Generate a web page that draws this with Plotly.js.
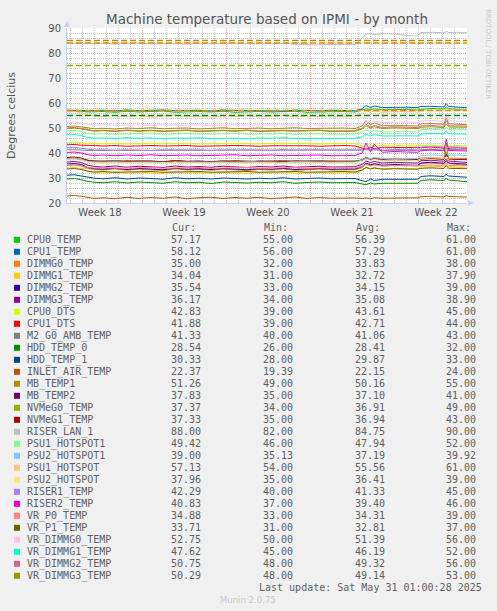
<!DOCTYPE html>
<html><head><meta charset="utf-8">
<script src="https://cdn.plot.ly/plotly-3.0.1.min.js"></script>
<style>html,body{margin:0;padding:0;background:#f0f0f0;}#chart{width:497px;height:611px;}</style>
</head><body><div id="chart"></div>
<script>
// ---------- data ----------
const startTime = '2025-04-28 18:00';
const spanDays = 33.33;
const days = [0,0.6,1.2,1.75,2.3,3,4,5,6,7,8,9,10,11,12,13,14,15,16,17,18,19,20,21,22,23,24,
  24.6,24.9,25.3,25.6,26.3,27.3,28.3,29.2,29.5,30.3,31.4,31.6,31.8,32.6,33.33];
const weekStarts = ['2025-04-28 00:00','2025-05-05 00:00','2025-05-12 00:00','2025-05-19 00:00','2025-05-26 00:00'];
const weekLabels = ['Week 18','Week 19','Week 20','Week 21','Week 22'];
const yTickVals = [20,30,40,50,60,70,80,90];

const names = ['CPU0_TEMP','CPU1_TEMP','DIMMG0_TEMP','DIMMG1_TEMP','DIMMG2_TEMP','DIMMG3_TEMP','CPU0_DTS','CPU1_DTS',
  'M2_G0_AMB_TEMP','HDD_TEMP_0','HDD_TEMP_1','INLET_AIR_TEMP','MB_TEMP1','MB_TEMP2','NVMeG0_TEMP','NVMeG1_TEMP',
  'RISER_LAN_1','PSU1_HOTSPOT1','PSU2_HOTSPOT1','PSU1_HOTSPOT','PSU2_HOTSPOT','RISER1_TEMP','RISER2_TEMP',
  'VR_P0_TEMP','VR_P1_TEMP','VR_DIMMG0_TEMP','VR_DIMMG1_TEMP','VR_DIMMG2_TEMP','VR_DIMMG3_TEMP'];
const colors = ['#00CC00','#0066B3','#FF8000','#FFCC00','#330099','#990099','#CCFF00','#FF0000',
  '#808080','#008F00','#00487D','#B35A00','#B38F00','#6B006B','#8FB300','#B30000',
  '#BEBEBE','#80FF80','#80C9FF','#FFC080','#FFE680','#AA80FF','#EE00CC',
  '#FF8080','#666600','#FFBFFF','#00FFCC','#CC6699','#999900'];

const CPU0_TEMP = [56.8,56.9,56.7,56.4,56.5,56.6,56.3,56.7,56.4,56.5,56.8,56.3,56.5,56.6,56.4,56.7,56.3,56.5,56.6,56.4,56.5,56.7,56.3,56.5,56.4,56.6,56.4,57.0,57.6,57.4,57.7,57.3,57.5,57.4,57.2,57.5,57.8,57.6,58.4,57.7,57.4,57.2];
const CPU1_TEMP = [57.1,57.2,57.0,56.9,57.0,57.1,56.8,57.2,56.9,57.0,57.2,56.9,57.0,57.1,56.8,57.2,57.0,56.9,57.1,57.0,56.8,57.1,57.0,56.9,57.1,57.0,56.9,57.6,59.0,58.2,58.8,58.2,58.4,58.3,58.2,58.6,58.7,58.4,59.7,58.6,58.3,58.1];
const DIMMG0_TEMP = [35.0,35.2,34.8,33.8,33.4,33.2,33.6,33.1,33.5,33.3,33.0,33.6,33.2,33.4,33.1,33.5,33.3,33.0,33.4,33.2,33.6,33.1,33.3,33.5,33.2,33.4,33.3,34.2,35.6,35.0,35.4,34.8,35.1,34.9,34.8,35.8,36.0,35.6,36.6,35.8,35.4,35.0];
const DIMMG1_TEMP = [34.0,34.2,33.8,32.6,32.2,32.0,32.4,31.9,32.3,32.1,31.8,32.4,32.0,32.2,31.9,32.3,32.1,31.8,32.2,32.0,32.4,31.9,32.1,32.3,32.0,32.2,32.1,33.0,34.4,33.8,34.2,33.6,33.9,33.7,33.6,34.6,34.8,34.4,36.0,34.6,34.2,34.0];
const DIMMG2_TEMP = [35.6,35.8,35.4,34.2,33.7,33.5,33.9,33.4,33.8,33.6,33.3,33.9,33.5,33.7,33.4,33.8,33.6,33.3,33.7,33.5,33.9,33.4,33.6,33.8,33.5,33.7,33.6,34.6,36.0,35.3,35.7,35.1,35.4,35.2,35.1,36.0,36.3,35.9,37.0,36.0,35.7,35.5];
const DIMMG3_TEMP = [36.4,36.6,36.2,35.1,34.6,34.4,34.8,34.3,34.7,34.5,34.2,34.8,34.4,34.6,34.3,34.7,34.5,34.2,34.6,34.4,34.8,34.3,34.5,34.7,34.4,34.6,34.5,35.5,36.8,36.2,36.6,36.0,36.3,36.1,36.0,36.9,37.1,36.7,37.6,36.8,36.4,36.2];
const CPU0_DTS = [44.2,44.4,44.0,43.8,43.9,43.7,43.9,43.6,43.8,43.9,43.7,43.8,43.9,43.6,43.8,43.7,43.9,43.8,43.6,43.8,43.9,43.7,43.8,43.6,43.8,43.9,43.7,42.8,42.3,43.0,42.6,43.1,42.9,43.0,43.1,42.9,43.2,42.8,39.4,42.9,43.0,42.8];
const CPU1_DTS = [43.3,43.4,43.1,42.9,43.0,42.8,43.0,42.7,42.9,43.0,42.8,42.9,43.0,42.7,42.9,42.8,43.0,42.9,42.7,42.9,43.0,42.8,42.9,42.7,42.9,43.0,42.8,42.0,41.5,42.2,41.8,42.3,42.1,42.2,42.3,42.1,42.4,42.0,39.2,42.0,42.1,41.9];
const M2_G0_AMB_TEMP = [41.3,41.4,41.2,41.0,41.0,41.1,40.9,41.0,41.1,40.9,41.0,41.0,41.1,40.9,41.0,41.0,41.1,40.9,41.0,41.1,40.9,41.0,41.0,41.1,40.9,41.0,41.0,41.2,41.4,41.1,41.3,41.0,41.1,41.0,41.0,41.3,41.4,41.2,41.8,41.4,41.3,41.3];
const HDD_TEMP_0 = [29.6,29.8,29.3,28.6,28.3,28.1,28.5,28.0,28.4,28.2,27.9,28.5,28.1,28.3,27.8,28.4,28.2,28.0,28.3,28.1,28.5,27.9,28.2,28.4,28.1,28.3,28.2,27.6,27.3,28.0,27.6,27.9,28.0,27.8,27.9,29.0,29.3,29.0,29.8,29.2,28.8,28.5];
const HDD_TEMP_1 = [31.1,31.3,30.8,30.2,29.9,29.7,30.1,29.6,30.0,29.8,29.5,30.1,29.7,29.9,29.6,30.0,29.8,29.6,29.9,29.7,30.1,29.6,29.8,30.0,29.7,29.9,29.8,29.0,28.5,29.6,29.0,29.5,29.6,29.4,29.5,30.6,30.9,30.6,31.5,30.8,30.5,30.3];
const INLET_AIR_TEMP = [22.8,23.0,22.7,22.2,21.8,22.1,21.7,22.3,21.8,22.2,21.9,22.4,21.7,22.1,22.3,21.8,22.2,21.9,22.3,21.7,22.1,22.4,21.8,22.2,21.9,22.1,22.0,21.8,22.0,21.7,22.1,21.9,22.0,21.8,22.1,22.5,22.7,22.4,23.0,22.6,22.5,22.4];
const MB_TEMP1 = [50.6,50.8,50.4,49.9,49.7,49.9,49.6,50.0,49.8,50.1,49.7,49.9,50.0,49.6,49.9,50.1,49.7,49.8,50.0,49.7,49.9,50.1,49.8,49.9,49.7,50.0,49.8,50.8,53.0,51.2,52.0,50.9,51.1,50.9,50.8,51.6,51.8,51.5,54.0,51.7,51.4,51.3];
const MB_TEMP2 = [37.6,37.8,37.4,37.0,36.8,36.6,37.0,36.5,36.9,36.7,36.4,37.0,36.6,36.8,36.5,36.9,36.7,36.4,36.8,36.6,37.0,36.5,36.7,36.9,36.6,36.8,36.7,37.3,38.2,37.6,38.0,37.4,37.7,37.5,37.4,37.9,38.1,37.8,39.0,37.9,37.8,37.8];
const NVMeG0_TEMP = [37.6,37.8,37.4,36.9,36.7,36.5,36.9,36.4,36.8,36.6,36.3,36.9,36.5,36.7,36.4,36.8,36.6,36.3,36.7,36.5,36.9,36.4,36.6,36.8,36.5,36.7,36.6,37.0,37.8,37.2,37.6,37.0,37.3,37.1,37.0,37.6,37.8,37.5,44.0,37.6,37.4,37.4];
const NVMeG1_TEMP = [38.2,38.4,38.0,37.0,36.7,36.8,36.5,36.9,36.6,36.8,36.5,36.9,36.7,36.6,36.8,36.5,36.9,36.7,36.6,36.8,36.5,36.9,36.7,36.6,36.8,36.7,36.6,37.2,38.0,37.4,37.8,37.1,37.4,37.2,37.1,37.6,37.8,37.5,40.0,37.6,37.4,37.3];
const RISER_LAN_1 = [84.0,84.1,83.9,83.8,83.7,83.9,83.6,83.8,84.0,83.7,83.9,83.8,83.6,83.9,83.7,83.8,84.0,83.7,83.8,83.6,83.9,83.5,83.3,83.2,83.4,83.2,83.3,86.0,87.5,87.7,87.4,87.8,87.6,87.0,86.8,88.2,88.3,88.1,88.6,88.2,88.3,88.0];
const PSU1_HOTSPOT1 = [48.8,49.0,48.6,47.8,47.6,47.8,47.5,47.7,47.6,47.9,47.5,47.7,47.8,47.5,47.7,47.6,47.8,47.5,47.7,47.6,47.8,47.5,47.6,47.7,47.5,47.7,47.6,48.3,49.2,48.5,48.9,48.4,48.6,48.5,48.4,49.3,49.5,49.2,50.5,49.4,49.3,49.4];
const PSU2_HOTSPOT1 = [37.6,37.8,37.4,36.6,36.4,36.3,36.5,36.2,36.4,36.3,36.5,36.2,36.4,36.5,36.3,36.4,36.2,36.5,36.3,36.4,36.2,36.5,36.3,36.4,36.3,36.5,36.4,37.2,38.0,37.8,38.1,37.9,38.0,37.9,37.8,39.0,39.2,39.1,39.9,39.2,39.1,39.0];
const PSU1_HOTSPOT = [56.4,56.5,56.2,55.3,54.8,54.6,55.0,54.5,54.9,54.4,54.7,55.1,54.5,54.8,54.3,54.9,54.6,55.0,54.4,54.7,55.0,54.5,54.8,54.6,54.9,54.5,54.7,55.8,57.0,56.4,56.8,56.3,56.6,56.5,56.4,57.0,57.3,57.0,58.0,57.2,57.0,57.1];
const PSU2_HOTSPOT = [37.2,37.4,37.0,36.2,35.9,36.0,35.8,36.1,35.9,36.0,35.8,36.1,35.9,36.0,35.8,36.1,35.9,36.0,35.8,36.1,35.9,36.0,35.8,36.1,35.9,36.0,35.9,36.6,37.4,37.1,37.4,37.0,37.3,37.1,37.0,37.8,38.1,37.9,38.4,38.0,37.9,38.0];
const RISER1_TEMP = [42.1,42.3,41.9,41.4,41.2,41.3,41.1,41.3,41.2,41.0,41.3,41.1,41.2,41.3,41.0,41.2,41.3,41.1,41.2,41.0,41.3,41.1,41.2,41.3,41.1,41.2,41.1,41.2,41.6,41.3,41.5,41.2,41.4,41.3,41.3,42.4,42.6,42.4,43.5,42.5,42.3,42.3];
const RISER2_TEMP = [40.2,40.4,40.0,39.3,39.0,39.2,38.9,39.2,39.0,39.3,38.9,39.1,39.2,38.9,39.1,39.0,39.3,38.9,39.1,39.2,38.9,39.1,39.0,39.2,38.9,39.1,39.0,40.0,44.0,40.5,43.5,40.3,40.6,40.4,40.3,40.9,41.2,40.9,45.5,41.0,40.8,40.8];
const VR_P0_TEMP = [35.0,35.2,34.8,34.2,34.0,34.2,33.9,34.1,34.0,34.2,33.9,34.1,34.0,34.2,33.9,34.1,34.0,34.2,33.9,34.1,34.0,34.2,33.9,34.1,34.0,34.2,34.0,34.6,35.4,34.9,35.2,34.8,35.0,34.9,34.8,35.0,35.2,34.9,36.0,35.0,34.9,34.9];
const VR_P1_TEMP = [33.6,33.8,33.4,32.7,32.4,32.6,32.3,32.5,32.4,32.6,32.3,32.5,32.4,32.6,32.3,32.5,32.4,32.6,32.3,32.5,32.4,32.6,32.3,32.5,32.4,32.6,32.4,33.2,34.2,33.6,34.0,33.5,33.7,33.6,33.5,33.9,34.1,33.8,35.0,33.9,33.7,33.7];
const VR_DIMMG0_TEMP = [52.2,52.4,52.0,51.4,51.2,51.3,51.1,51.3,51.2,51.0,51.3,51.1,51.2,51.3,51.0,51.2,51.3,51.1,51.2,51.0,51.3,51.1,51.2,51.3,51.1,51.2,51.1,51.8,53.0,52.3,52.7,52.2,52.4,52.3,52.2,52.8,53.0,52.8,55.8,52.9,52.7,52.8];
const VR_DIMMG1_TEMP = [47.2,47.4,47.0,46.2,45.9,46.0,45.8,46.1,45.9,46.0,45.7,46.0,45.9,46.1,45.8,46.0,45.9,45.7,46.0,45.9,46.1,45.8,46.0,45.9,45.8,46.0,45.9,46.5,47.5,46.9,47.3,46.8,47.0,46.9,46.8,47.6,47.8,47.6,49.0,47.7,47.6,47.6];
const VR_DIMMG2_TEMP = [50.0,50.2,49.8,49.2,48.9,49.1,48.8,49.2,48.9,49.1,48.8,49.0,49.2,48.8,49.0,49.1,48.9,49.2,48.8,49.0,49.1,48.9,49.0,49.2,48.8,49.0,48.9,49.9,51.5,50.4,51.0,50.2,50.5,50.3,50.2,50.8,51.0,50.7,53.0,50.9,50.7,50.8];
const VR_DIMMG3_TEMP = [49.8,50.0,49.6,49.0,48.7,48.9,48.6,49.0,48.7,48.9,48.6,48.8,49.0,48.6,48.8,48.9,48.7,49.0,48.6,48.8,48.9,48.7,48.8,49.0,48.6,48.8,48.7,49.6,50.8,50.0,50.5,49.8,50.1,49.9,49.8,50.3,50.5,50.2,51.5,50.4,50.3,50.3];

const curVals = [57.17,58.12,35.00,34.04,35.54,36.17,42.83,41.88,41.33,28.54,30.33,22.37,51.26,37.83,37.37,37.33,88.00,49.42,39.00,57.13,37.96,42.29,40.83,34.88,33.71,52.75,47.62,50.75,50.29];
const minVals = [55.00,56.00,32.00,31.00,33.00,34.00,39.00,39.00,40.00,26.00,28.00,19.39,49.00,35.00,34.00,35.00,82.00,46.00,35.13,54.00,35.00,40.00,37.00,33.00,31.00,50.00,45.00,48.00,48.00];
const avgVals = [56.39,57.29,33.83,32.72,34.15,35.08,43.61,42.71,41.06,28.41,29.87,22.15,50.16,37.10,36.91,36.94,84.75,47.94,37.19,55.56,36.41,41.33,39.40,34.31,32.81,51.39,46.19,49.32,49.14];
const maxVals = [61.00,61.00,38.00,37.90,39.00,38.90,45.00,44.00,43.00,32.00,33.00,24.00,55.00,41.00,49.00,43.00,90.00,52.00,39.92,61.00,39.00,45.00,46.00,39.00,37.00,56.00,52.00,56.00,53.00];

const thresholdValues = [85, 84, 75, 57, 55];
const thresholdColors = ['#B38F00', '#FF8000', '#8FB300', '#FF8000', '#008F00'];

const series = [CPU0_TEMP,CPU1_TEMP,DIMMG0_TEMP,DIMMG1_TEMP,DIMMG2_TEMP,DIMMG3_TEMP,CPU0_DTS,CPU1_DTS,
  M2_G0_AMB_TEMP,HDD_TEMP_0,HDD_TEMP_1,INLET_AIR_TEMP,MB_TEMP1,MB_TEMP2,NVMeG0_TEMP,NVMeG1_TEMP,
  RISER_LAN_1,PSU1_HOTSPOT1,PSU2_HOTSPOT1,PSU1_HOTSPOT,PSU2_HOTSPOT,RISER1_TEMP,RISER2_TEMP,
  VR_P0_TEMP,VR_P1_TEMP,VR_DIMMG0_TEMP,VR_DIMMG1_TEMP,VR_DIMMG2_TEMP,VR_DIMMG3_TEMP];

// ---------- helpers ----------
const DAY = 86400000;
function toMs(s){ return Date.parse(s.replace(' ','T')+':00Z'); }
function toStr(ms){ return new Date(ms).toISOString().slice(0,19).replace('T',' '); }
const t0 = toMs(startTime);
const tEnd = t0 + spanDays*DAY;
const xs = days.map(d => toStr(t0 + d*DAY));
const weekCenters = weekStarts.map(w => toStr(toMs(w) + 3.5*DAY));

// layout geometry (pixels)
const W = 497, H = 611, L = 67, R = 467, T = 28, B = 203;
const px = x => (x - L)/(R - L);
const py = y => (B - y)/(B - T);

const FONT = 'DejaVu Sans, sans-serif';
const MONO = 'DejaVu Sans Mono, monospace';
const TXT = '#555555';
const LEG = '#606060';

// ---------- traces ----------
const traces = series.map((vals, i) => ({
  type: 'scatter', mode: 'lines', x: xs, y: vals, name: names[i],
  line: {color: colors[i], width: 1}, hoverinfo: 'skip', showlegend: false
}));
thresholdValues.forEach((v, i) => traces.push({
  type: 'scatter', mode: 'lines', x: [toStr(t0), toStr(tEnd)], y: [v, v],
  line: {color: thresholdColors[i], width: 1.3, dash: '6px,3px'}, hoverinfo: 'skip', showlegend: false
}));
traces.push({type:'scatter', mode:'lines', x: weekCenters, y: weekCenters.map(() => null), xaxis: 'x2',
  hoverinfo:'skip', showlegend:false});

// ---------- annotations (legend table etc.) ----------
const ann = [];
const rowY0 = 239.8, rowH = 12;
const colRight = [201.7, 293.3, 385, 476.7];
const headers = ['Cur:', 'Min:', 'Avg:', 'Max:'];
const headerLeft = [171.7, 263.3, 355, 446.7];
headers.forEach((h, i) => ann.push({xref:'paper', yref:'paper', x: px(headerLeft[i]-1.5), y: py(227.5), text: h,
  xanchor:'left', yanchor:'middle', showarrow:false, font:{family: MONO, size: 10, color: LEG}}));
const shapes = [];
const cols = [curVals, minVals, avgVals, maxVals];
names.forEach((n, i) => {
  const yy = rowY0 + rowH*i;
  ann.push({xref:'paper', yref:'paper', x: px(25), y: py(yy), text: n, xanchor:'left', yanchor:'middle',
    showarrow:false, font:{family: MONO, size: 10, color: LEG}});
  cols.forEach((c, j) => ann.push({xref:'paper', yref:'paper', x: px(colRight[j]+1.5), y: py(yy), text: c[i].toFixed(2),
    xanchor:'right', yanchor:'middle', showarrow:false, font:{family: MONO, size: 10, color: LEG}}));
  shapes.push({type:'rect', xref:'paper', yref:'paper', x0: px(14), x1: px(20), y0: py(yy+3), y1: py(yy-3),
    fillcolor: colors[i], line:{width:0}});
});
ann.push({xref:'paper', yref:'paper', x: px(484), y: py(587.3), text: 'Last update: Sat May 31 01:00:28 2025',
  xanchor:'right', yanchor:'middle', showarrow:false, font:{family: MONO, size: 10, color: LEG}});
ann.push({xref:'paper', yref:'paper', x: px(248), y: py(600), text: 'Munin 2.0.75',
  xanchor:'center', yanchor:'middle', showarrow:false, font:{family: FONT, size: 8.5, color: '#c8c8c8'}});
ann.push({xref:'paper', yref:'paper', x: px(488), y: py(54), text: 'RRDTOOL / TOBI OETIKER', textangle: 90,
  xanchor:'center', yanchor:'middle', showarrow:false, font:{family: FONT, size: 7, color: '#c8c8c8'}});
ann.push({xref:'paper', yref:'paper', x: px(11), y: py(115), text: 'Degrees celcius', textangle: -90,
  xanchor:'center', yanchor:'middle', showarrow:false, font:{family: FONT, size: 11, color: TXT}});

// axis arrows
shapes.push({type:'path', xref:'paper', yref:'paper', xsizemode:'pixel', ysizemode:'pixel', xanchor: 0, yanchor: 1,
  path:'M-3,1 L3,1 L0,7 Z', fillcolor:'#c8d0f5', line:{width:0}});
shapes.push({type:'path', xref:'paper', yref:'paper', xsizemode:'pixel', ysizemode:'pixel', xanchor: 1, yanchor: 0,
  path:'M1,-3 L1,3 L7,0 Z', fillcolor:'#c8d0f5', line:{width:0}});

const layout = {
  width: W, height: H,
  margin: {l: L, r: W - R, t: T, b: H - B, pad: 0},
  paper_bgcolor: '#f0f0f0', plot_bgcolor: '#ffffff',
  showlegend: false,
  title: {text: 'Machine temperature based on IPMI - by month', x: 0.5, xref: 'paper', xanchor: 'center',
    y: 1 - 19/H, yref: 'container', yanchor: 'middle', font: {family: FONT, size: 13.5, color: TXT}},
  xaxis: {type: 'date', range: [toStr(t0), toStr(tEnd)], tick0: weekStarts[0], dtick: 7*DAY,
    showticklabels: false, ticks: '', showgrid: true, gridcolor: '#f0a0a0', griddash: '1px,1px', gridwidth: 1,
    minor: {dtick: DAY, tick0: weekStarts[0], showgrid: true, gridcolor: '#c4c4c4', griddash: '1px,1px', gridwidth: 1},
    showline: true, linecolor: '#c8d0f5', linewidth: 1, zeroline: false, fixedrange: true},
  xaxis2: {type: 'date', overlaying: 'x', anchor: 'y', side: 'bottom', range: [toStr(t0), toStr(tEnd)],
    tickmode: 'array', tickvals: weekCenters, ticktext: weekLabels, showgrid: false, showline: false, ticks: '',
    tickfont: {family: FONT, size: 10, color: TXT}, zeroline: false, ticklabelstandoff: 2},
  yaxis: {range: [20, 90], tickmode: 'array', tickvals: yTickVals, showgrid: true, gridcolor: '#f0a0a0',
    griddash: '1px,1px', gridwidth: 1,
    minor: {dtick: 2, showgrid: true, gridcolor: '#c4c4c4', griddash: '1px,1px', gridwidth: 1},
    ticks: '', tickfont: {family: FONT, size: 10, color: TXT}, showline: true, linecolor: '#c8d0f5', linewidth: 1,
    zeroline: false, ticklabelstandoff: 3},
  annotations: ann, shapes: shapes
};

Plotly.newPlot('chart', traces, layout, {staticPlot: true, displayModeBar: false});
</script></body></html>
